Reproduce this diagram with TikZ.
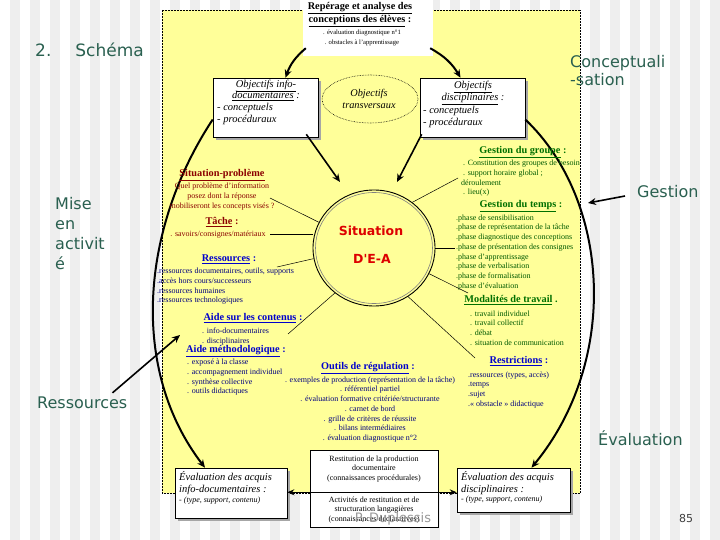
\documentclass[tikz,border=0pt]{standalone}
\usepackage{fontspec}
\setmainfont{Liberation Serif}
\newfontfamily\labfont{DejaVu Sans}
\usetikzlibrary{arrows.meta,shadows,shapes.geometric,calc}
\definecolor{yel}{HTML}{FFFF99}
\definecolor{dred}{HTML}{8B0000}
\definecolor{tblue}{HTML}{0000CC}
\definecolor{nblue}{HTML}{000080}
\definecolor{tgreen}{HTML}{007000}
\definecolor{dgreen}{HTML}{005A00}
\definecolor{labcol}{HTML}{2A6050}
\definecolor{stripe}{HTML}{EEEEEE}
\definecolor{sitred}{HTML}{DD0000}
\begin{document}
\begin{tikzpicture}[x=1pt,y=-1pt,
  txt/.style={inner sep=0pt, font=\fontsize{8}{9.7}\selectfont},
  ttl/.style={inner sep=0pt, font=\fontsize{10.3}{12}\selectfont\bfseries},
  big/.style={inner sep=0pt, font=\labfont\fontsize{16}{20}\selectfont, text=labcol},
  obox/.style={draw=black, line width=0.6pt, fill=white, inner sep=0pt,
     drop shadow={shadow xshift=3pt, shadow yshift=-3pt, fill=gray!70, opacity=1}},
  ibox/.style={inner sep=0pt, font=\fontsize{10.5}{11.8}\selectfont\itshape},
  cyc/.style={line width=2pt, draw=black},
  tip/.style={-{Stealth[length=8pt,width=7pt]}},
  ray/.style={line width=0.5pt}]
\useasboundingbox (0,0) rectangle (720,540);
% background
\fill[stripe] (0,0) rectangle (720,540);
\foreach \x in {0,20,...,700} \fill[white] (\x,0) rectangle (\x+10,540);
% yellow panel
\fill[yel] (162,10) rectangle (580,493);
\draw[densely dotted, line width=0.5pt] (162,10) rectangle (580,493);
\node[fill=white, minimum width=130pt, minimum height=56pt, inner sep=0pt] (ttlbox) at (368,28) {};
\node[inner sep=0pt, font=\fontsize{10.3}{13}\selectfont\bfseries, align=center, anchor=north] (ttl1) at (360,2) {\underline{Repérage et analyse des}\\\underline{conceptions des élèves} :};
\node[inner sep=0pt, font=\fontsize{6.6}{10}\selectfont, align=center, anchor=north] (ttl2) at (362,30) {. évaluation diagnostique n°1\\. obstacles à l'apprentissage};

% big labels
\node[big, anchor=west, font=\labfont\fontsize{17}{20}\selectfont] (num) at (35,50) {2.\hspace{24pt}Schéma};
\node[big, anchor=west, align=left, font=\labfont\fontsize{16}{18}\selectfont] (concept) at (570,71) {Conceptuali\\-sation};
\node[big, anchor=west] (gest) at (637,192) {Gestion};
\node[big, anchor=north west, align=left, font=\labfont\fontsize{16}{20}\selectfont] (mise) at (55,197) {Mise\\en\\activit\\é};
\node[big, anchor=west] (ress) at (37,403) {Ressources};
\node[big, anchor=west] (eval) at (598,438) {Évaluation};

% objective boxes
\node[obox, minimum width=105pt, minimum height=59pt] (infobox) at (265.5,107.5) {};
\node[ibox, align=center, anchor=north] (infot) at (266,79.5) {\underline{Objectifs info-}\\\underline{documentaires} :};
\node[ibox, align=left, anchor=north west] (infol) at (217,103.5) {- conceptuels\\- procéduraux};
\node[ellipse, draw=black, densely dotted, line width=0.6pt, fill=yel, minimum width=96pt, minimum height=48pt, inner sep=0pt] (trans) at (370,99) {};
\node[ibox, align=center, font=\fontsize{10.3}{12.5}\selectfont\itshape] (transt) at (369,99) {Objectifs\\transversaux};
\node[obox, minimum width=105pt, minimum height=59pt] (discbox) at (472.5,107.5) {};
\node[ibox, align=center, anchor=north] (disct) at (473,81) {\underline{Objectifs}\\\underline{disciplinaires} :};
\node[ibox, align=left, anchor=north west] (discl) at (423,106) {- conceptuels\\- procéduraux};

% central situation
\node[ellipse, draw=black, line width=0.9pt, minimum width=122pt, minimum height=116pt, inner sep=0pt] (sit) at (374,248) {};
\node[ellipse, draw=gray, line width=0.6pt, minimum width=117pt, minimum height=111pt, inner sep=0pt] (sitin) at (374,248) {};
\node[inner sep=0pt, font=\labfont\fontsize{12.5}{14}\selectfont\bfseries, text=sitred] (sit1) at (371,231) {Situation};
\node[inner sep=0pt, font=\labfont\fontsize{12.5}{14}\selectfont\bfseries, text=sitred] (sit2) at (372,259) {D'E-A};

% arrows objectives -> situation
\draw[line width=1.6pt, tip] ($(infobox.south east)+(-12,-3)$) -- (340,182);
\draw[line width=1.6pt, tip] ($(discbox.south west)+(2,-3)$) -- (397,182);

% cycle arcs
\draw[cyc, tip] ($(ttlbox.south west)+(3,-8)$) to[bend right=15] ($(infobox.north)+(20,0)$);
\draw[cyc, tip] ($(ttlbox.south east)+(-3,-8)$) to[bend left=15] ($(discbox.north)+(-12,0)$);
\node[obox, minimum width=112pt, minimum height=50pt] (evl) at (231,493) {};
\node[obox, minimum width=113pt, minimum height=44pt] (evr) at (513.5,490) {};
\draw[cyc, tip] ($(infobox.west)+(0,12)$) .. controls (140,230) and (130,370) .. ($(evl.north)+(-26,0)$);
\draw[cyc, tip] ($(discbox.east)+(0,12)$) .. controls (610,200) and (620,360) .. ($(evr.north)+(18,0)$);

% external arrows
\draw[line width=1.6pt, tip] (gest.west) ++(-12,4) coordinate (g0) (g0) -- (588,203);
\draw[line width=1.6pt, tip] ($(ress.north east)+(-15,-4)$) -- (180,335);

% left texts
\node[ttl, text=dred, anchor=north] (spt) at (222,169.5) {\underline{Situation-problème}};
\node[txt, text=dred, align=center, anchor=north] (sp) at (222,183) {Quel problème d'information\\posez dont la réponse\\mobiliseront les concepts visés ?};
\node[ttl, text=dred, anchor=north] (tachet) at (222,217.5) {\underline{Tâche} :};
\node[txt, text=dred, align=center, anchor=north] (tache) at (218,231) {. savoirs/consignes/matériaux};
\node[ttl, text=tblue, anchor=north] (rest) at (229,254.5) {\underline{Ressources} :};
\node[txt, text=nblue, align=left, anchor=north west] (resl) at (157,268) {.ressources documentaires, outils, supports\\.accès hors cours/successeurs\\.ressources humaines\\.ressources technologiques};
\node[ttl, text=tblue, anchor=north] (acont) at (253,313.5) {\underline{Aide sur les contenus} :};
\node[txt, text=nblue, align=left, anchor=north west] (acontl) at (202,328) {. info-documentaires\\. disciplinaires};
\node[ttl, text=tblue, anchor=north] (ameth) at (236,345.5) {\underline{Aide méthodologique} :};
\node[txt, text=nblue, align=left, anchor=north west] (amethl) at (187,359) {. exposé à la classe\\. accompagnement individuel\\. synthèse collective\\. outils didactiques};
\node[ttl, text=tblue, anchor=north] (outt) at (368,362.5) {\underline{Outils de régulation} :};
\node[txt, text=nblue, align=center, anchor=north] (outl) at (370,376.5) {. exemples de production (représentation de la tâche)\\. référentiel partiel\\. évaluation formative critériée/structurante\\. carnet de bord\\. grille de critères de réussite\\. bilans intermédiaires\\. évaluation diagnostique n°2};
\node[ttl, text=tblue, anchor=north] (restr) at (519,356.5) {\underline{Restrictions} :};
\node[txt, text=nblue, align=left, anchor=north west] (restrl) at (468,371.5) {.ressources (types, accès)\\.temps\\.sujet\\.« obstacle » didactique};

% right texts
\node[ttl, text=tgreen, anchor=north] (ggt) at (523,146.5) {\underline{Gestion du groupe} :};
\node[txt, text=dgreen, align=left, anchor=north west] (ggl) at (461,160) {\ . Constitution des groupes de besoin\\\ . support horaire global ;\\déroulement\\\ . lieu(x)};
\node[ttl, text=tgreen, anchor=north] (gtt) at (521,200.5) {\underline{Gestion du temps} :};
\node[txt, text=dgreen, align=left, anchor=north west] (gtl) at (456,214.5) {.phase de sensibilisation\\.phase de représentation de la tâche\\.phase diagnostique des conceptions\\.phase de présentation des consignes\\.phase d'apprentissage\\.phase de verbalisation\\.phase de formalisation\\.phase d'évaluation};
\node[ttl, text=tgreen, anchor=north] (modt) at (511,295.5) {\underline{Modalités de travail} .};
\node[txt, text=dgreen, align=left, anchor=north west] (modl) at (470,310.5) {. travail individuel\\. travail collectif\\. débat\\. situation de communication};

% rays
\draw[ray] (sit.155) -- (270,198);
\draw[ray] (sit.west |- 0,234) -- (270,234);
\draw[ray] (sit.190) -- (277,267);
\draw[ray] (sit.229) -- (288,334);
\draw[ray] (sit.50) -- (458,178);
\draw[ray] (sit.east) -- (455,248);
\draw[ray] (sit.-25) -- (468,293);
\draw[ray] (sit.-55) -- (475,358);

% bottom boxes
\node[ibox, align=left, anchor=north west] (evlt) at (179,471) {Évaluation des acquis\\info-documentaires :};
\node[ibox, anchor=north west, font=\fontsize{8}{9}\selectfont\itshape] (evll) at (179,497) {- (type, support, contenu)};
\node[ibox, align=left, anchor=north west] (evrt) at (461,471) {Évaluation des acquis\\disciplinaires :};
\node[ibox, anchor=north west, font=\fontsize{8}{9}\selectfont\itshape] (evrl) at (461,496) {- (type, support, contenu)};
\node[draw=black, line width=0.6pt, fill=white, minimum width=128pt, minimum height=42pt, inner sep=0pt] (rest1) at (374,471) {};
\node[txt, align=center] (rest1t) at (374,469) {Restitution de la production\\documentaire\\(connaissances procédurales)};
\node[draw=black, line width=0.6pt, fill=white, minimum width=128pt, minimum height=35pt, inner sep=0pt] (rest2) at (374,509.5) {};
\node[txt, align=center] (rest2t) at (374,510) {Activités de restitution et de\\structuration langagières\\(connaissances déclaratives)};
\draw[line width=1.6pt, {Stealth[length=7pt,width=6pt]}-{Stealth[length=7pt,width=6pt]}] (evl.east |- rest1.south) -- (evr.west |- rest1.south);
\node[inner sep=0pt, font=\labfont\fontsize{13}{15}\selectfont, text=gray!80] (dup) at (393,519) {P. Duplessis};
\node[inner sep=0pt, font=\labfont\fontsize{11}{13}\selectfont, text=black!75] (pg) at (686,518) {85};
\end{tikzpicture}
\end{document}
